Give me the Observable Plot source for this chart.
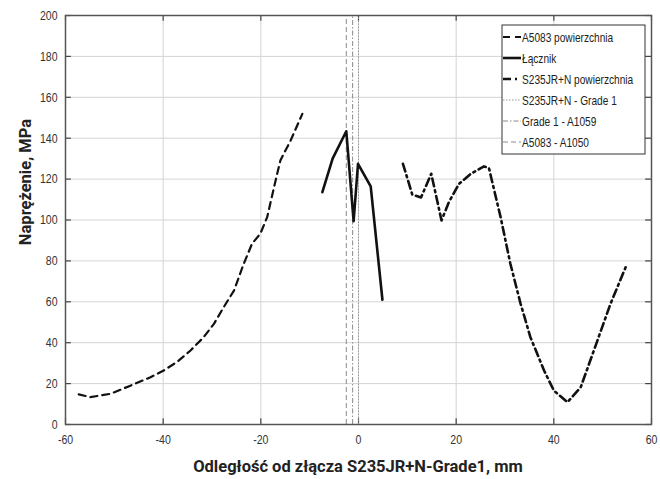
<!DOCTYPE html>
<html>
<head>
<meta charset="utf-8">
<script src="https://cdn.jsdelivr.net/npm/d3@7"></script>
<script src="https://cdn.jsdelivr.net/npm/@observablehq/plot@0.6"></script>
<style>
  html, body { margin: 0; padding: 0; background: #fff; }
  #chart { position: relative; width: 660px; height: 479px; }
</style>
</head>
<body>
<div id="chart"></div>
<script>
// ---- data ----
const xTicks = [-60, -40, -20, 0, 20, 40, 60];
const yTicks = [0, 20, 40, 60, 80, 100, 120, 140, 160, 180, 200];

const a5083X = [-57.3, -54.9, -50.8, -46.7, -42.6, -39.9, -37.2, -34.4, -31.7, -29.6, -27.6, -25.5, -23.5, -21.8, -20.1, -18.7, -17.3, -16.0, -13.9, -11.5];
const a5083Y = [14.7, 13.4, 15, 19, 23.1, 26.4, 30.5, 36.2, 42.7, 49.2, 57.4, 65.5, 78.6, 88.4, 93.3, 101.4, 116, 129.1, 138.9, 151.9];

const lacznikX = [-7.4, -5.3, -2.5, -1.0, -0.1, 2.5, 4.9];
const lacznikY = [113.6, 130, 143.4, 99.4, 127.5, 116.4, 61];

const s235X = [9.1, 11, 12.8, 14.9, 17, 18.5, 20.6, 23, 25.7, 26.7, 29.1, 31.1, 33.2, 35.2, 38, 40, 42.8, 45.5, 48.2, 51.6, 55];
const s235Y = [127.5, 112.5, 111, 122.6, 99.8, 108.7, 117.7, 122.6, 126.2, 125.5, 101.4, 78.6, 59, 42.7, 26.4, 16.6, 10.9, 18.2, 36.2, 59, 78.6];

const boundaryNames = ["S235JR+N - Grade 1", "Grade 1 - A1059", "A5083 - A1050"];
const boundaryX = [0, -1.2, -2.5];

const legendNames = ["A5083 powierzchnia", "Łącznik", "S235JR+N powierzchnia", "S235JR+N - Grade 1", "Grade 1 - A1059", "A5083 - A1050"];

const xTitle = "Odległość od złącza S235JR+N-Grade1, mm";
const yTitle = "Naprężenie, MPa";

// ---- build ----
const zip = (xs, ys) => xs.map((x, i) => ({x, y: ys[i]}));
const a5083 = zip(a5083X, a5083Y);
const lacznik = zip(lacznikX, lacznikY);
const s235 = zip(s235X, s235Y);

const styles = [
  {stroke: "#111", width: 2.2, dash: "7,5"},
  {stroke: "#111", width: 2.6, dash: null},
  {stroke: "#111", width: 2.6, dash: "8,4,2,4"},
  {stroke: "#999", width: 1, dash: "1.5,1.5"},
  {stroke: "#888", width: 1, dash: "5,2,1.5,2"},
  {stroke: "#888", width: 1, dash: "5,3"}
];

const boundaryStyle = boundaryNames.map((n, i) => styles[3 + i]);
const fmt = d => String(d);

const plot = Plot.plot({
  width: 660,
  height: 479,
  marginLeft: 65,
  marginRight: 9,
  marginTop: 15,
  marginBottom: 55,
  x: {domain: [-60, 60]},
  y: {domain: [0, 200]},
  style: {background: "#fff", color: "#222"},
  marks: [
    Plot.gridX(xTicks, {stroke: "#d4d4d4", strokeOpacity: 1, strokeWidth: 1}),
    Plot.gridY(yTicks, {stroke: "#d4d4d4", strokeOpacity: 1, strokeWidth: 1}),
    // inward tick marks
    Plot.ruleX(xTicks, {y1: 0, y2: 2.8, stroke: "#444", strokeWidth: 1.2}),
    Plot.ruleX(xTicks, {y1: 197.2, y2: 200, stroke: "#444", strokeWidth: 1.2}),
    Plot.ruleY(yTicks, {x1: -60, x2: -58.8, stroke: "#444", strokeWidth: 1.2}),
    Plot.ruleY(yTicks, {x1: 58.8, x2: 60, stroke: "#444", strokeWidth: 1.2}),
    // boundary lines
    ...boundaryX.map((bx, i) => Plot.ruleX([bx], {
      y1: 0, y2: 200,
      stroke: boundaryStyle[i].stroke,
      strokeWidth: boundaryStyle[i].width,
      strokeDasharray: boundaryStyle[i].dash
    })),
    Plot.line(a5083, {x: "x", y: "y", stroke: styles[0].stroke, strokeWidth: styles[0].width, strokeDasharray: styles[0].dash}),
    Plot.line(lacznik, {x: "x", y: "y", stroke: styles[1].stroke, strokeWidth: styles[1].width}),
    Plot.line(s235, {x: "x", y: "y", stroke: styles[2].stroke, strokeWidth: styles[2].width, strokeDasharray: styles[2].dash}),
    Plot.frame({stroke: "#555", strokeWidth: 1.5}),
    Plot.axisX(xTicks, {tickSize: 0, tickPadding: 10, fontSize: 13.5, tickFormat: fmt, label: null}),
    Plot.axisY(yTicks, {tickSize: 0, tickPadding: 8, fontSize: 13.5, tickFormat: fmt, label: null})
  ]
});

document.getElementById("chart").appendChild(plot);

const svg = d3.select(plot);

// condense a text element horizontally
function condense(sel, k) {
  sel.each(function() {
    const w = this.getComputedTextLength();
    if (w > 0) {
      this.setAttribute("textLength", (w * k).toFixed(2));
      this.setAttribute("lengthAdjust", "spacingAndGlyphs");
    }
  });
}

const tickText = svg.selectAll("g[aria-label='x-axis tick label'] text, g[aria-label='y-axis tick label'] text")
  .style("font-family", '"Liberation Sans", Arial, sans-serif')
  .style("font-size", "13.5px")
  .attr("fill", "#333");
condense(tickText, 0.78);

// axis titles
svg.append("text")
  .attr("x", 358).attr("y", 472)
  .attr("text-anchor", "middle")
  .style("font-family", "Roboto, sans-serif")
  .style("font-weight", "bold")
  .style("font-size", "16.5px")
  .attr("fill", "#222")
  .text(xTitle);

svg.append("text")
  .attr("transform", "translate(31,182) rotate(-90)")
  .attr("text-anchor", "middle")
  .style("font-family", "Roboto, sans-serif")
  .style("font-weight", "bold")
  .style("font-size", "16.5px")
  .attr("fill", "#222")
  .text(yTitle);

// legend
const lg = svg.append("g");
lg.append("rect")
  .attr("x", 502).attr("y", 25).attr("width", 143).attr("height", 129)
  .attr("fill", "#fff").attr("stroke", "#333").attr("stroke-width", 1);
legendNames.forEach((name, i) => {
  const yy = 37 + i * 21;
  const st = styles[i];
  lg.append("line")
    .attr("x1", 503).attr("x2", 521).attr("y1", yy).attr("y2", yy)
    .attr("stroke", st.stroke).attr("stroke-width", st.width)
    .attr("stroke-dasharray", st.dash);
  lg.append("text")
    .attr("transform", `translate(522,${yy + 4.5}) scale(0.78,1)`)
    .attr("text-anchor", "start")
    .style("font-family", '"Liberation Sans", Arial, sans-serif')
    .style("font-size", "13px")
    .attr("fill", "#222")
    .text(name);
});
</script>
</body>
</html>
